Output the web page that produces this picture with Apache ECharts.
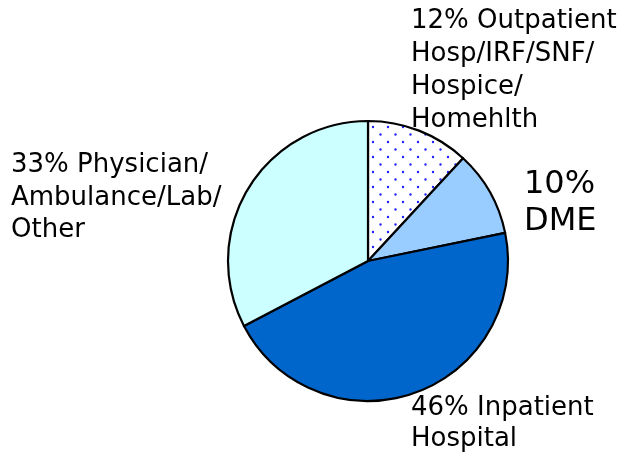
<!DOCTYPE html>
<html>
<head>
<meta charset="utf-8">
<script src="https://cdn.jsdelivr.net/npm/echarts@6/dist/echarts.min.js"></script>
<style>
html,body{margin:0;padding:0;background:#fff;}
#chart{width:629px;height:452px;}
</style>
</head>
<body>
<div id="chart"></div>
<script>
// Data
var categories = ["Outpatient\nHosp/IRF/SNF/\nHospice/\nHomehlth", "DME", "Inpatient\nHospital", "Physician/\nAmbulance/Lab/\nOther"];
var shares = [12, 10, 46, 33];

// Styles (not data)
var sliceColors = [null, "#99CCFF", "#0066CC", "#CCFFFF"];
var labelSpots = [
  {x: 411, y: 5, fontSize: 26, lineHeight: 33, sep: " "},
  {x: 524, y: 166, fontSize: 32, lineHeight: 37, sep: "\n"},
  {x: 411, y: 393, fontSize: 26, lineHeight: 31, sep: " "},
  {x: 11, y: 149, fontSize: 26, lineHeight: 32.5, sep: " "}
];

// dotted pattern
var pc = document.createElement("canvas");
pc.width = 15; pc.height = 15;
var g = pc.getContext("2d");
g.fillStyle = "#ffffff"; g.fillRect(0, 0, 15, 15);
g.fillStyle = "#1f1fff";
function dot(x, y) { g.beginPath(); g.arc(x, y, 1.2, 0, Math.PI * 2); g.fill(); }
dot(13, 7); dot(5.5, 14.5); dot(5.5, -0.5); dot(-2, 7); dot(20.5, 14.5);
sliceColors[0] = {image: pc, repeat: "repeat"};

var chart = echarts.init(document.getElementById("chart"), null, {renderer: "canvas"});
var data = categories.map(function (c, i) {
  var s = labelSpots[i];
  return {
    name: c,
    value: shares[i],
    itemStyle: {color: sliceColors[i]},
    label: {fontSize: s.fontSize, lineHeight: s.lineHeight,
      formatter: shares[i] + "%" + s.sep + c}
  };
});
chart.setOption({
  animation: false,
  backgroundColor: "#ffffff",
  series: [{
    type: "pie",
    center: [368, 261],
    radius: 140,
    startAngle: 90,
    clockwise: true,
    avoidLabelOverlap: false,
    itemStyle: {borderColor: "#000000", borderWidth: 2.2},
    label: {
      show: true,
      position: "outside",
      color: "#000000",
      fontFamily: "DejaVu Sans",
      align: "left"
    },
    labelLine: {show: false},
    labelLayout: function (p) {
      var s = labelSpots[p.dataIndex];
      return {x: s.x, y: s.y, align: "left", verticalAlign: "top", hideOverlap: false};
    },
    data: data
  }]
});
</script>
</body>
</html>
